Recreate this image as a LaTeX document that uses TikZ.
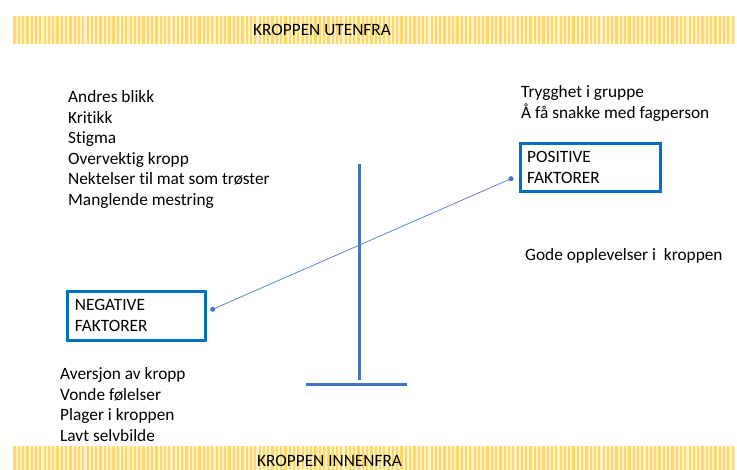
\documentclass[tikz,border=0pt]{standalone}
\usepackage{fontspec}
\setmainfont{Carlito}[Ligatures={NoCommon}]
\definecolor{boxblue}{HTML}{0070C0}
\definecolor{lineblue}{HTML}{4472C4}
\definecolor{connblue}{HTML}{5B85D0}
\definecolor{gold}{HTML}{FFD966}
\definecolor{pale}{HTML}{FFF2CC}
\begin{document}
\begin{tikzpicture}[x=1pt,y=-1pt,
  txt/.style={anchor=base west,inner sep=0pt,font=\fontsize{17.3}{20}\selectfont},
  balance/.style={draw=lineblue,line width=2.7pt},
  conn/.style={draw=connblue,line width=0.8pt},
  enddot/.style={circle,fill=lineblue,inner sep=0pt,minimum size=5pt}]
\useasboundingbox (0,0) rectangle (737,470);
% bands
\fill[pale] (13,16) rectangle (735,44);
\fill[pale] (13,446) rectangle (735,470);
\foreach \x in {14.5,18.8,...,735}{
  \draw[gold,line width=2.2pt] (\x,16) -- (\x,44);
  \draw[gold,line width=2.2pt] (\x,446) -- (\x,470);
}
\node[txt] (top) at (253,36) {KROPPEN UTENFRA};
\node[txt] (bot) at (257,466.7) {KROPPEN INNENFRA};
% boxes
\draw[boxblue,line width=3pt] (520.2,143.2) rectangle (660.2,191.8);
\node[txt] (pos1) at (527,162.3) {POSITIVE};
\node[txt] (pos2) at (527,183.3) {FAKTORER};
\draw[boxblue,line width=3pt] (67.5,291.5) rectangle (205.8,340.5);
\node[txt] (neg1) at (74.7,310.7) {NEGATIVE};
\node[txt] (neg2) at (74.7,331.7) {FAKTORER};
% balance
\coordinate (vt) at (359.3,164);
\coordinate (vb) at (359.3,380);
\coordinate (hl) at (305.7,384.3);
\coordinate (hr) at (406.7,384.3);
\draw[balance] (vt) -- (vb);
\draw[balance] (hl) -- (hr);
% connector
\node[enddot] (dn) at (212.7,309.3) {};
\node[enddot] (dp) at (511,178.7) {};
\draw[conn] (dn.center) -- (dp.center);
% lists
\node[txt] (a1) at (68,102.7) {Andres blikk};
\node[txt] (a2) at (68,123.2) {Kritikk};
\node[txt] (a3) at (68,143.7) {Stigma};
\node[txt] (a4) at (68,164.2) {Overvektig kropp};
\node[txt] (a5) at (68,184.7) {Nektelser til mat som trøster};
\node[txt] (a6) at (68,205.2) {Manglende mestring};
\node[txt] (b1) at (521,97.7) {Trygghet i gruppe};
\node[txt] (b2) at (521,118.3) {Å få snakke med fagperson};
\node[txt] (c1) at (525,260.7) {Gode opplevelser i\ \ kroppen};
\node[txt] (d1) at (60,380) {Aversjon av kropp};
\node[txt] (d2) at (60,400.5) {Vonde følelser};
\node[txt] (d3) at (60,421) {Plager i kroppen};
\node[txt] (d4) at (60,441.3) {Lavt selvbilde};
\end{tikzpicture}
\end{document}
